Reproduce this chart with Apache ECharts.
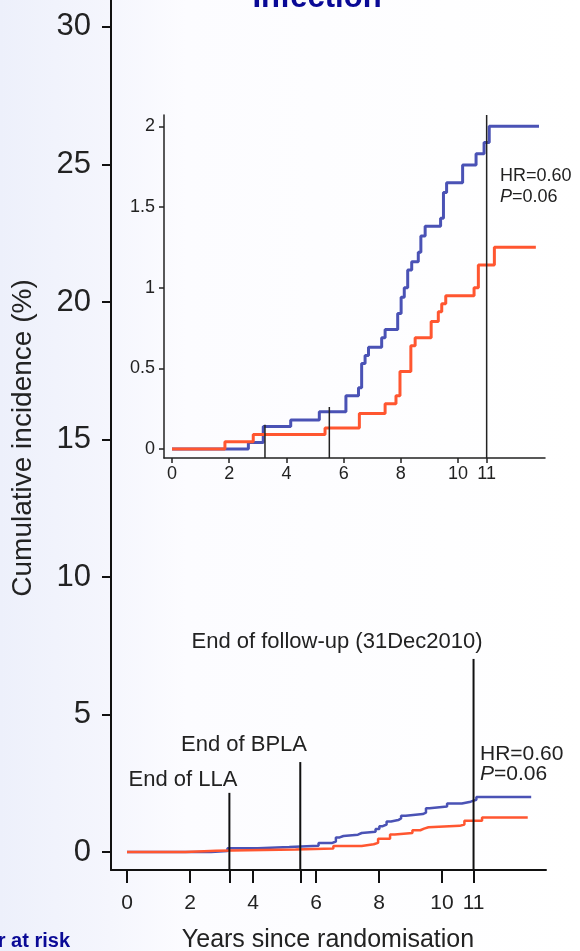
<!DOCTYPE html>
<html>
<head>
<meta charset="utf-8">
<title>Infection</title>
<script src="https://cdn.jsdelivr.net/npm/echarts@6/dist/echarts.min.js"></script>
<style>
  html, body { margin: 0; padding: 0; }
  #myChart { width: 580px; height: 951px; }
</style>
</head>
<body>
<div id="myChart"></div>
<script>
// step data (same curves are drawn on the 0-30 main scale)
let blueTimes = [0, 2.67, 3.19, 4.15, 5.15, 6.08, 6.52, 6.63, 6.75, 6.87, 7.33, 7.45, 7.89, 8.01,
  8.12, 8.24, 8.38, 8.61, 8.70, 8.85, 9.39, 9.49, 9.60, 10.16, 10.63, 10.91, 11.09, 12.83];
let blueValues = [0, 0.04, 0.14, 0.18, 0.23, 0.33, 0.38, 0.53, 0.58, 0.63, 0.69, 0.74, 0.84, 0.94,
  1.00, 1.11, 1.16, 1.22, 1.32, 1.38, 1.43, 1.59, 1.65, 1.76, 1.83, 1.90, 2.00, 2.00];
let redTimes = [0, 1.85, 2.84, 5.35, 6.55, 7.45, 7.83, 7.97, 8.35, 8.50, 9.06, 9.31, 9.43, 9.57,
  10.56, 10.71, 11.27, 12.72];
let redValues = [0, 0.045, 0.09, 0.13, 0.22, 0.28, 0.33, 0.48, 0.64, 0.69, 0.79, 0.85, 0.90, 0.95,
  1.00, 1.14, 1.25, 1.25];

// tick labels
let mainYTicks = [0, 5, 10, 15, 20, 25, 30];
let mainXLabels = [0, 2, 4, 6, 8, 10, 11];
let insetYTicks = [0, 0.5, 1, 1.5, 2];
let insetXLabels = [0, 2, 4, 6, 8, 10, 11];

// vertical reference lines (end of LLA, end of BPLA, end of follow-up)
let markerYears = [3.25, 5.5, 11];
let markerTopsMain = [2.15, 3.27, 7.02];
let markerTopsInset = [0.15, 0.26, 2.07];

let BLUE = "#4a52b5";
let RED = "#ff5630";
let TEXT = "#222";
let FONT = "Liberation Sans, Arial, sans-serif";

let myChart = echarts.init(document.getElementById("myChart"));

function steps(times, values) {
  return times.map((t, i) => [t, values[i]]);
}

let mainRange = { xMin: -0.508, xMax: 13.3, yMin: -0.655, yMax: 30.98 };
let insetRange = { xMin: -0.28, xMax: 13.04, yMin: -0.056, yMax: 2.07 };

let series = [];
// curves on both grids
[0, 1].forEach(g => {
  series.push({
    type: "line", xAxisIndex: g, yAxisIndex: g, step: "end", symbol: "none", silent: true,
    lineStyle: { color: RED, width: g === 0 ? 2.5 : 3 },
    data: steps(redTimes, redValues), z: 3
  });
  series.push({
    type: "line", xAxisIndex: g, yAxisIndex: g, step: "end", symbol: "none", silent: true,
    lineStyle: { color: BLUE, width: g === 0 ? 2.5 : 3 },
    data: steps(blueTimes, blueValues), z: 2
  });
});
// reference lines
markerYears.forEach((yr, i) => {
  series.push({
    type: "line", xAxisIndex: 0, yAxisIndex: 0, symbol: "none", silent: true, z: 4,
    lineStyle: { color: "#111", width: 2 },
    data: [[yr, mainRange.yMin], [yr, markerTopsMain[i]]]
  });
  series.push({
    type: "line", xAxisIndex: 1, yAxisIndex: 1, symbol: "none", silent: true, z: 4,
    lineStyle: { color: "#222", width: 1.5 },
    data: [[yr, insetRange.yMin], [yr, markerTopsInset[i]]]
  });
});

function label(text, x, y, size, align) {
  return {
    type: "text", x: x, y: y,
    style: { text: text, fill: TEXT, textAlign: align || "center", textVerticalAlign: "middle",
      font: size + "px " + FONT,
      rich: { i: { fontStyle: "italic", fontSize: size, fontFamily: FONT, fill: TEXT } } }
  };
}

let option = {
  animation: false,
  grid: [
    { left: 111, right: 34, top: 0, bottom: 81 },
    { left: 164, right: 35, top: 115, bottom: 493 }
  ],
  xAxis: [
    {
      type: "value", gridIndex: 0, min: mainRange.xMin, max: mainRange.xMax,
      axisLine: { show: true, onZero: false, lineStyle: { color: "#111", width: 2 } },
      axisTick: { show: true, length: 13, customValues: [0, 2, 3.25, 4, 5.5, 6, 8, 10, 11],
        lineStyle: { color: "#111", width: 2 } },
      axisLabel: { customValues: mainXLabels, fontSize: 21, color: TEXT, margin: 23, fontFamily: FONT },
      splitLine: { show: false }
    },
    {
      type: "value", gridIndex: 1, min: insetRange.xMin, max: insetRange.xMax,
      axisLine: { show: true, onZero: false, lineStyle: { color: "#222", width: 1.5 } },
      axisTick: { show: true, length: 5, customValues: insetXLabels,
        lineStyle: { color: "#222", width: 1.5 } },
      axisLabel: { customValues: insetXLabels, fontSize: 18, color: TEXT, margin: 7, fontFamily: FONT },
      splitLine: { show: false }
    }
  ],
  yAxis: [
    {
      type: "value", gridIndex: 0, min: mainRange.yMin, max: mainRange.yMax,
      axisLine: { show: true, onZero: false, lineStyle: { color: "#111", width: 2 } },
      axisTick: { show: true, length: 9, customValues: mainYTicks,
        lineStyle: { color: "#111", width: 2 } },
      axisLabel: { customValues: mainYTicks, fontSize: 31, color: TEXT, margin: 20, fontFamily: FONT },
      splitLine: { show: false }
    },
    {
      type: "value", gridIndex: 1, min: insetRange.yMin, max: insetRange.yMax,
      axisLine: { show: true, onZero: false, lineStyle: { color: "#222", width: 1.5 } },
      axisTick: { show: true, length: 5, customValues: insetYTicks,
        lineStyle: { color: "#222", width: 1.5 } },
      axisLabel: { customValues: insetYTicks, fontSize: 18, color: TEXT, margin: 9, fontFamily: FONT },
      splitLine: { show: false }
    }
  ],
  series: series,
  graphic: [
    {
      type: "rect", z: -100, silent: true,
      shape: { x: 0, y: 0, width: 580, height: 951 },
      style: {
        fill: new echarts.graphic.LinearGradient(0, 0, 1, 0, [
          { offset: 0, color: "#edf0fb" },
          { offset: 0.19, color: "#f5f6fd" },
          { offset: 0.32, color: "#fcfcff" },
          { offset: 1, color: "#ffffff" }
        ])
      }
    },
    {
      type: "text", x: 317, y: -2,
      style: { text: "Infection", fill: "#0a0a96", textAlign: "center", textVerticalAlign: "middle",
        font: "bold 31px " + FONT }
    },
    {
      type: "text", x: 70, y: 941,
      style: { text: "Number at risk", fill: "#0a0a96", textAlign: "right", textVerticalAlign: "middle",
        font: "bold 20px " + FONT }
    },
    {
      type: "text", x: 23, y: 438, rotation: Math.PI / 2,
      style: { text: "Cumulative incidence (%)", fill: TEXT, textAlign: "center", textVerticalAlign: "middle",
        font: "28px " + FONT }
    },
    label("Years since randomisation", 328, 940, 25),
    label("End of follow-up (31Dec2010)", 337, 642, 22),
    label("End of BPLA", 244, 745, 22),
    label("End of LLA", 183, 780, 22),
    label("HR=0.60", 480, 754, 21, "left"),
    label("{i|P}=0.06", 480, 774, 21, "left"),
    label("HR=0.60", 500, 176, 18, "left"),
    label("{i|P}=0.06", 500, 197, 18, "left")
  ]
};
myChart.setOption(option);
window.addEventListener("resize", function() {
  myChart.resize();
});
</script>
</body>
</html>
